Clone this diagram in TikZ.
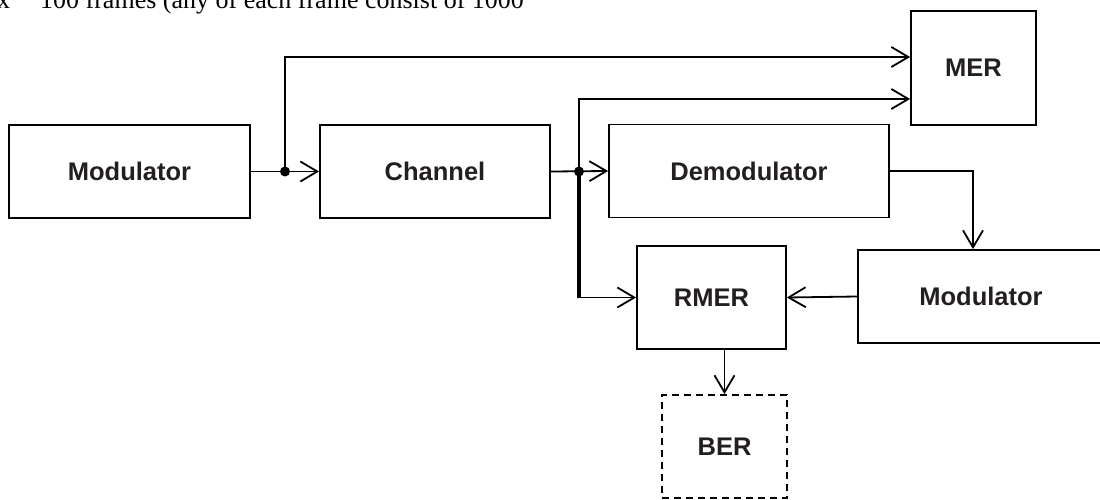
\documentclass[tikz,border=0pt]{standalone}
\usepackage{fontspec}
\setmainfont{Liberation Serif}
\setsansfont{Liberation Sans}
\usetikzlibrary{arrows.meta,calc}

\definecolor{txt}{HTML}{231F20}

\tikzset{
	blk/.style={draw=black, line width=1.8pt, fill=white, inner sep=0pt,
		font=\sffamily\bfseries\fontsize{25.5}{30}\selectfont, text=txt},
	sig/.style={line width=1.8pt, -{Straight Barb[length=17pt,width=20pt]}},
	dot/.style={circle, fill=black, inner sep=0pt, minimum size=10pt},
}

\begin{document}
\begin{tikzpicture}[x=1pt, y=-1pt]
	
	\useasboundingbox (0,0) rectangle (1100,500);
	\clip (0,0) rectangle (1100,500);
	
	% caption line, cut by the top edge
	\node[anchor=base west, inner sep=0pt, font=\fontsize{26}{30}\selectfont] (note) at (-3, 8.5) {x\hspace{30pt}100 frames (any of each frame consist of 1000};
	
	% blocks
	\node[blk, minimum width=241pt, minimum height=93pt] (mod)   at (129.5, 171.5) {Modulator};
	\node[blk, minimum width=230pt, minimum height=93pt] (chan)  at (435, 171.5)   {Channel};
	\node[blk, minimum width=280pt, minimum height=93pt] (demod) at (749, 171)     {Demodulator};
	\node[blk, minimum width=125pt, minimum height=114pt] (mer)  at (973.5, 68)    {MER};
	\node[blk, minimum width=246pt, minimum height=93pt] (remod) at (981, 296.5)   {Modulator};
	\node[blk, minimum width=149pt, minimum height=103pt] (rmer) at (711.5, 297.5) {RMER};
	\node[blk, dash pattern=on 7pt off 5pt, minimum width=125pt, minimum height=103pt] (ber) at (724.5, 446.5) {BER};
	
	% branch points
	\node[dot] (j1) at (285, 171.5) {};
	\node[dot] (j2) at (579, 171.5) {};
	\coordinate (down) at (j2 |- rmer.west);
	
	\draw[sig] (mod.east) -- (chan.west);
	\draw[sig] (j1.center) |- ($(mer.west)+(0,-11)$);
	\draw[sig] (chan.east) -- (demod.west);
	\draw[sig] (j2.center) |- ($(mer.west)+(0,31)$);
	\draw[line width=3.6pt] (j2.center) -- (down);
	\draw[sig] (down) -- (rmer.west);
	\draw[sig] (demod.east) -| ($(remod.north)+(-8,0)$);
	\draw[sig] (remod.west) -- (rmer.east);
	\draw[sig] (rmer.south -| ber.north) -- (ber.north);
	\end{tikzpicture}
\end{document}
